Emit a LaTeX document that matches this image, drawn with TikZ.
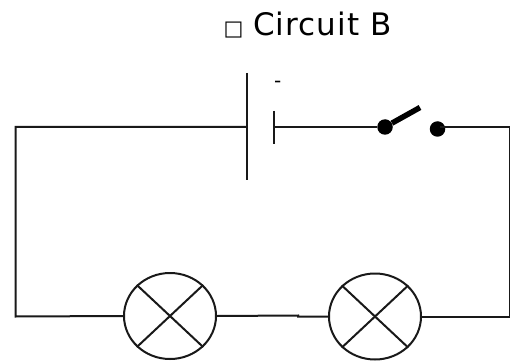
\documentclass[tikz,border=0pt]{standalone}
\usepackage{fontspec}
\usetikzlibrary{shapes.geometric}
\setmainfont{DejaVu Sans}
\newfontfamily\titlefont[LetterSpace=3.5]{DejaVu Sans}
\begin{document}
\begin{tikzpicture}[x=1pt,y=-1pt,
  wire/.style={line width=2pt,black!90},
  plate/.style={line width=2pt,black!90},
  lampbody/.style={draw=black!90,line width=2pt,ellipse,minimum width=92pt,minimum height=86pt,inner sep=0pt},
  contact/.style={circle,fill=black,inner sep=0pt,minimum size=15.5pt},
  labeltext/.style={inner sep=0pt,anchor=base west}]
\useasboundingbox (0,0) rectangle (510,363);
\coordinate (tl) at (15.5,127);
\coordinate (bl) at (15.5,316.5);
\coordinate (tr) at (509.5,127.5);
\coordinate (br) at (509.5,316.5);
\coordinate (rjoin) at (440,127.5);
\coordinate (batA) at (247,127);
\coordinate (batB) at (274,127);
\coordinate (batAt) at (247,73);
\coordinate (batAb) at (247,180);
\coordinate (batBt) at (274,111);
\coordinate (batBb) at (274,144);
\coordinate (lever) at (420,107.5);
\node[contact] (s1) at (385,127) {};
\node[contact] (s2) at (437.5,129) {};
\node[lampbody] (l1) at (170,316) {};
\node[lampbody] (l2) at (375,316.5) {};
\draw[wire] (batA) -- (tl) -- (bl) -- (l1.west);
\draw[wire] (l1.east) -- (298,315.5) -- (298,316.5) -- (l2.west);
\draw[wire] (l2.east) -- (br) -- (tr) -- (rjoin);
\draw[wire] (batB) -- (s1);
\draw[plate] (batAt) -- (batAb);
\draw[plate] (batBt) -- (batBb);
\draw[line width=5.5pt,black] (s1) -- (lever);
\foreach \l in {l1,l2}{
  \draw[wire] (\l.north west) -- (\l.south east);
  \draw[wire] (\l.north east) -- (\l.south west);
}
\node[labeltext,font=\titlefont\fontsize{31}{34}\selectfont] (title) at (253,36) {Circuit B};
\node[labeltext,font=\fontsize{21}{24}\selectfont] (box) at (223.5,35.5) {□};
\node[labeltext,font=\fontsize{20}{24}\selectfont] (minus) at (274,88) {-};
\end{tikzpicture}
\end{document}
